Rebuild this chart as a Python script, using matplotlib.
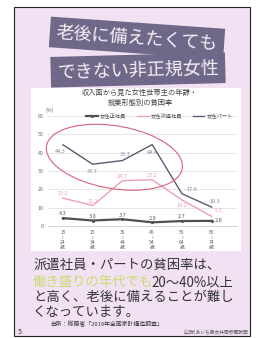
import matplotlib
matplotlib.use('Agg')
import matplotlib.pyplot as plt
from matplotlib.patches import Rectangle, Ellipse

plt.rcParams['font.family'] = ['Noto Sans CJK JP', 'DejaVu Sans']

# data
ages = ['15\n≀\n24\n歳', '25\n≀\n34\n歳', '35\n≀\n44\n歳', '45\n≀\n54\n歳', '55\n≀\n64\n歳', '65\n≀\n74\n歳']
seishain = [4.3, 3.0, 3.7, 2.0, 2.7, 2.8]
haken = [15.2, 11.2, 24.7, 25.2, 14.2, 5.2]
part = [44.3, 33.7, 35.7, 44.4, 17.6, 10.3]
series_names = ['女性正社員', '女性派遣社員', '女性パート']
yticks = [0, 10, 20, 30, 40, 50, 60]

W, H = 258, 338
fig = plt.figure(figsize=(W / 100, H / 100), dpi=100)
fig.patch.set_facecolor('white')


def fx(px):
    return px / W


def fy(py):
    return 1 - py / H


# slide background and white chart panel
fig.patches.append(Rectangle((fx(14), fy(336)), fx(236), (329) / H, transform=fig.transFigure,
                             fc='#f1e1f3', ec='#222222', lw=0.8, zorder=0))
fig.patches.append(Rectangle((fx(31), fy(251)), fx(210), (163) / H, transform=fig.transFigure,
                             fc='white', ec='none', zorder=1))

# title banners
banner = '#6f6889'
fig.text(fx(137), fy(38), '老後に備えたくても', ha='center', va='center', rotation=-4,
         fontsize=13, color='#f6f0f8', zorder=3,
         bbox=dict(boxstyle='square,pad=0.35', fc=banner, ec='none'))
fig.text(fx(138), fy(70), 'できない非正規女性', ha='center', va='center', rotation=1.5,
         fontsize=13, color='#f6f0f8', zorder=3,
         bbox=dict(boxstyle='square,pad=0.35', fc=banner, ec='none'))

# chart title
fig.text(fx(140), fy(98), '収入面から見た女性世帯主の年齢・\n就業形態別の貧困率', ha='center', va='center',
         fontsize=5.2, color='#444444', linespacing=1.2, zorder=3)
fig.text(fx(46), fy(110), '(%)', ha='left', va='center', fontsize=3.8, color='#666666', zorder=3)

ax = fig.add_axes([fx(48), fy(226), fx(189), 110 / H])
ax.set_zorder(5)
ax.set_facecolor('none')
x = list(range(len(ages)))

c_sei = '#505050'
c_hak = '#ef9fb2'
c_par = '#5e5875'
ax.plot(x, seishain, color=c_sei, lw=1.6, marker='o', ms=1.2, label=series_names[0], clip_on=False, zorder=3)
ax.plot(x, haken, color=c_hak, lw=1.0, label=series_names[1], clip_on=False, zorder=3)
ax.plot(x, part, color=c_par, lw=1.0, label=series_names[2], clip_on=False, zorder=3)

# value labels
sei_off = [(0, 3), (0, 3), (0, 3), (0, 3), (0, 3), (5, 0)]
for i, v in enumerate(seishain):
    ax.annotate(f'{v:.1f}', (i, v), xytext=sei_off[i], textcoords='offset points',
                ha='center', va='center', fontsize=4, color='#555555')
hak_off = [(0, 3), (0, 3), (0, 3), (0, 3), (0, -4), (5, 4)]
for i, v in enumerate(haken):
    ax.annotate(f'{v:.1f}', (i, v), xytext=hak_off[i], textcoords='offset points',
                ha='center', va='center', fontsize=4, color='#f0a0b4')
par_off = [(-2, -5), (0, -5), (2, 4), (0, -6), (7, 3), (2, 4)]
for i, v in enumerate(part):
    ax.annotate(f'{v:.1f}', (i, v), xytext=par_off[i], textcoords='offset points',
                ha='center', va='center', fontsize=4, color='#8a849a')

# highlight ellipse
ax.add_patch(Ellipse((1.73, 37.5), 4.4, 36, angle=2, fill=False, ec='#d8627a', lw=0.8,
                     clip_on=False, zorder=4))

ax.set_xlim(-0.5, 5.85)
ax.set_ylim(0, 60)
ax.set_yticks(yticks)
ax.set_yticklabels([str(t) for t in yticks], fontsize=3.8, color='#666666')
ax.set_xticks(x)
ax.set_xticklabels(ages, fontsize=3.6, color='#666666', linespacing=1.0)
ax.tick_params(length=0, pad=3)
ax.grid(axis='y', color='#e2e2e2', lw=0.6)
ax.set_axisbelow(True)
for s in ['top', 'right', 'left']:
    ax.spines[s].set_visible(False)
ax.spines['bottom'].set_color('#cfcfcf')
ax.spines['bottom'].set_linewidth(0.6)

ax.legend(loc='center', bbox_to_anchor=(0.59, 1.0), ncol=3, frameon=False, fontsize=3.8,
          handlelength=2.2, handletextpad=0.4, columnspacing=2.0, labelcolor='#555555')

# body text
body = '#333333'
fs = 9.6
fig.text(fx(33), fy(265), '派遣社員・パートの貧困率は、', ha='left', va='center', fontsize=fs, color=body)
fig.text(fx(33), fy(282), '働き盛りの年代でも', ha='left', va='center', fontsize=fs, color='#cadb6c')
fig.text(fx(151), fy(282), '20〜40%以上', ha='left', va='center', fontsize=fs, color=body)
fig.text(fx(33), fy(297), 'と高く、老後に備えることが難し', ha='left', va='center', fontsize=fs, color=body)
fig.text(fx(33), fy(312), 'くなっています。', ha='left', va='center', fontsize=fs, color=body)
fig.text(fx(50), fy(324), '出所：総務省「2019年全国家計構造調査」', ha='left', va='center', fontsize=4.2, color=body)
fig.text(fx(18), fy(332), '5', ha='left', va='center', fontsize=5, color=body)
fig.text(fx(248), fy(332), '(公財)あいち男女共同参画財団', ha='right', va='center', fontsize=3.4, color='#555555')

fig.savefig('out.png', dpi=100)
